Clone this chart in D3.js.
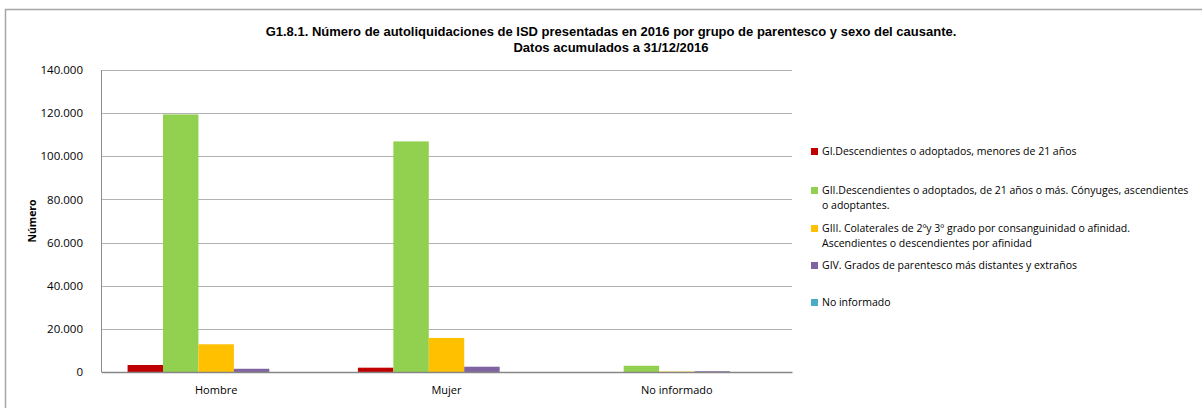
<!DOCTYPE html>
<html>
<head>
<meta charset="utf-8">
<script src="https://cdn.jsdelivr.net/npm/d3@7"></script>
<style>
	body { margin: 0; background: #fff; }
	text { font-family: "Open Sans", "Noto Sans", sans-serif; fill: #000; }
	.title { font-family: "Liberation Sans Narrow", "Liberation Sans", sans-serif; font-weight: bold; font-size: 13px; }
</style>
</head>
<body>
<div id="chart"></div>
<script>
var categories = ['Hombre', 'Mujer', 'No informado'],
	seriesNames = [
		'GI.Descendientes o adoptados, menores de 21 años',
		'GII.Descendientes o adoptados, de 21 años o más. Cónyuges, ascendientes o adoptantes.',
		'GIII. Colaterales de 2ºy 3º grado por consanguinidad o afinidad. Ascendientes o descendientes por afinidad',
		'GIV. Grados de parentesco más distantes y extraños',
		'No informado'
	],
	seriesColors = ['#C00000', '#92D050', '#FFC000', '#8064A2', '#4BACC6'],
	// one array per series, values for Hombre, Mujer, No informado
	gI   = [3250, 2000, 0],
	gII  = [119400, 106900, 2900],
	gIII = [12850, 15800, 200],
	gIV  = [1500, 2450, 350],
	noInf = [0, 0, 0],
	yTicks = [0, 20000, 40000, 60000, 80000, 100000, 120000, 140000],
	titleLines = ['G1.8.1. Número de autoliquidaciones de ISD presentadas en 2016 por grupo de parentesco y sexo del causante.',
		'Datos acumulados a 31/12/2016'];

var series = [gI, gII, gIII, gIV, noInf];

var width = 1202, height = 408,
	plot_left = 101, plot_right = 792, plot_top = 70, plot_bottom = 372,
	legend_x = 811, legend_wrap = 372, legend_line = 14.5;

var svg = d3.select('#chart').append('svg')
	.attr('width', width)
	.attr('height', height);

// outer frame (only left and top edges are visible in the crop)
svg.append('path')
	.attr('d', 'M5.5,' + height + 'V9.5H' + width)
	.attr('fill', 'none')
	.attr('stroke', '#a6a6a6')
	.attr('stroke-width', 1.5);

svg.selectAll('text.title')
	.data(titleLines).enter().append('text')
	.attr('class', 'title')
	.attr('x', 611)
	.attr('y', function (d, i) { return 36 + i * 16; })
	.attr('text-anchor', 'middle')
	.text(function (d) { return d; });

var y = d3.scaleLinear().domain([0, 140000]).range([plot_bottom, plot_top]);

var x0 = d3.scaleBand().domain(categories).range([plot_left, plot_right]);

// Excel gap width 150% => gap = 1.5 bar widths split at both sides
var x1 = d3.scaleBand().domain(d3.range(series.length))
	.range([0, x0.bandwidth()])
	.paddingInner(0)
	.paddingOuter(0.75);

var fmt = function (v) { return d3.format(',')(v).replace(/,/g, '.'); };

// gridlines
svg.append('g')
	.selectAll('line')
	.data(yTicks.slice(1)).enter().append('line')
	.attr('x1', plot_left).attr('x2', plot_right)
	.attr('y1', function (d) { return Math.round(y(d)) + 0.5; })
	.attr('y2', function (d) { return Math.round(y(d)) + 0.5; })
	.attr('stroke', '#b3b3b3');

// left axis line
svg.append('line')
	.attr('x1', plot_left + 0.5).attr('x2', plot_left + 0.5)
	.attr('y1', plot_top).attr('y2', plot_bottom)
	.attr('stroke', '#8c8c8c');

// y axis labels
var yAxis = d3.axisLeft(y).tickValues(yTicks).tickSize(0).tickPadding(0).tickFormat(fmt);
var yg = svg.append('g')
	.attr('transform', 'translate(' + (plot_left - 18) + ',0)')
	.call(yAxis);
yg.select('.domain').remove();
yg.selectAll('text')
	.style('font-family', '"Open Sans", sans-serif')
	.style('font-size', '11.5px')
	.attr('fill', '#000');

svg.append('text')
	.attr('transform', 'translate(36,' + ((plot_top + plot_bottom) / 2) + ') rotate(-90)')
	.attr('text-anchor', 'middle')
	.style('font-size', '10.5px')
	.style('font-weight', 'bold')
	.text('Número');

// bars
var groups = svg.append('g').selectAll('g')
	.data(series).enter().append('g')
	.attr('fill', function (d, i) { return seriesColors[i]; });

groups.selectAll('rect')
	.data(function (d, i) { return d.map(function (v, j) { return { s: i, c: categories[j], v: v }; }); })
	.enter().append('rect')
	.attr('x', function (d) { return x0(d.c) + x1(d.s); })
	.attr('width', x1.bandwidth())
	.attr('y', function (d) { return y(d.v); })
	.attr('height', function (d) { return plot_bottom - y(d.v); });

// x axis
var xAxis = d3.axisBottom(x0).tickSize(0).tickPadding(14);
var xg = svg.append('g')
	.attr('transform', 'translate(0,' + plot_bottom + ')')
	.call(xAxis);
xg.select('.domain').attr('stroke', '#868686').attr('stroke-width', 1.5);
xg.selectAll('text')
	.style('font-family', '"Open Sans", sans-serif')
	.style('font-size', '11px')
	.attr('fill', '#000');

// legend
var legendY = [155, 194, 232, 269, 306];
var legend = svg.append('g').selectAll('g')
	.data(seriesNames).enter().append('g')
	.attr('transform', function (d, i) { return 'translate(' + legend_x + ',' + legendY[i] + ')'; });

legend.append('rect')
	.attr('x', 0).attr('y', -7)
	.attr('width', 7).attr('height', 7)
	.attr('fill', function (d, i) { return seriesColors[i]; });

legend.append('text')
	.style('font-size', '10.5px')
	.each(function (d) {
		var t = d3.select(this),
			words = d.split(' '),
			line = [],
			tspan = t.append('tspan').attr('x', 11).attr('dy', 0);
		words.forEach(function (w) {
			line.push(w);
			tspan.text(line.join(' '));
			if (tspan.node().getComputedTextLength() > legend_wrap && line.length > 1) {
				line.pop();
				tspan.text(line.join(' '));
				line = [w];
				tspan = t.append('tspan').attr('x', 11).attr('dy', legend_line).text(w);
			}
		});
	});
</script>
</body>
</html>
